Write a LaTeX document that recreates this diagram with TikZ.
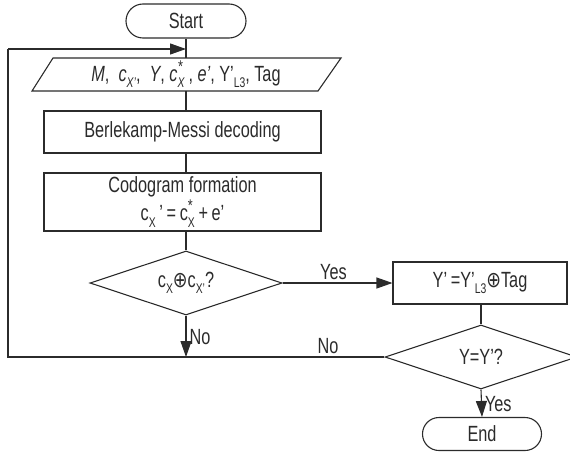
\documentclass[tikz,border=0pt]{standalone}
\usepackage{fontspec}
\setmainfont{Liberation Sans}[FakeStretch=0.74]
\newfontfamily\symfont{DejaVu Sans}[FakeStretch=0.8]
\usetikzlibrary{arrows.meta,shapes.geometric,shapes.misc}
\definecolor{ink}{HTML}{2B2B2B}
% small lowered / raised text for indices
\newcommand\idx{\fontsize{14}{14}\selectfont}
\newcommand\lowr[1]{\raisebox{-0.3em}{\idx #1}}
\newcommand\supsub[2]{\rlap{\raisebox{0.4em}{\fontsize{17}{17}\selectfont #1}}\raisebox{-0.3em}{\idx #2}}
\newcommand\xor{{\symfont\char"2295}}
\begin{document}
\begin{tikzpicture}[x=1pt,y=-1pt,
  every node/.style={text=ink,font=\fontsize{22}{24}\selectfont},
  line/.style={draw=ink,line width=1.1pt},
  arr/.style={line,-{Triangle[length=16pt,width=11pt]}},
  term/.style={rounded rectangle,draw=ink,line width=1.1pt,inner sep=0pt},
  procbox/.style={rectangle,draw=ink,line width=1.1pt,inner sep=0pt},
  decide/.style={diamond,draw=ink,line width=1.1pt,inner sep=0pt,aspect=3},
  lbl/.style={inner sep=0pt}]
\useasboundingbox (0,0) rectangle (570,452);

% terminals
\node[term,minimum width=120pt,minimum height=34pt] (start) at (186,21) {Start};
\node[term,minimum width=119pt,minimum height=33pt] (end) at (482,434) {End};

% input / output parallelogram
\draw[line] (53,58) -- (341,58) -- (318,91) -- (32,91) -- cycle;
\node[inner sep=0pt,minimum height=33pt] (io) at (186,74.5)
  {\textit{M},\ \ \textit{c}\lowr{\textit{X'}},\ \ \textit{Y}, \textit{c}\supsub{\textit{*}}{\textit{X}}\,, \textit{e'}, Y'\lowr{L3}, Tag};

% process boxes
\node[procbox,minimum width=277pt,minimum height=42pt] (dec) at (182.5,132) {Berlekamp-Messi decoding};
\node[procbox,minimum width=277pt,minimum height=58pt,align=center] (codo) at (182.5,202)
  {Codogram formation\\[2pt]c\lowr{X}\,'\,=\,c\supsub{*}{X}\,+\,e'};
\node[procbox,minimum width=174pt,minimum height=42pt] (ybox) at (480,283) {Y'\,=Y'\lowr{L3}\xor Tag};

% decisions
\node[decide,minimum width=192pt,minimum height=64pt] (d1) at (186,283) {c\lowr{X}\xor c\lowr{X'}?};
\node[decide,minimum width=192pt,minimum height=64pt] (d2) at (481,357) {Y=Y'?};

% loop-back join points
\coordinate (join) at (186,49);
\coordinate (lc) at (8,357);
\coordinate (tc) at (8,49);
\coordinate (m1) at (186,357);

% connectors
\draw[line] (start.south) -- (io.north);
\draw[line] (io.south) -- (io.south |- dec.north);
\draw[line] (io.south |- dec.south) -- (io.south |- codo.north);
\draw[line] (io.south |- codo.south) -- (d1.north);
\draw[arr] (d1.east) -- node[lbl,above=3pt,xshift=-4pt] {Yes} (ybox.west);
\draw[line] (ybox.south -| d2.north) -- (d2.north);
\draw[arr] (d2.south) -- node[lbl,right=3pt,yshift=-1pt] {Yes} (end.north);
\draw[arr] (d1.south) -- node[lbl,right=3pt,yshift=-1pt] {No} (m1);
\draw[line] (d2.west) -- node[lbl,above=3pt,pos=0.15] {No} (lc) -- (tc);
\draw[arr] (tc) -- (join);
\end{tikzpicture}
\end{document}
